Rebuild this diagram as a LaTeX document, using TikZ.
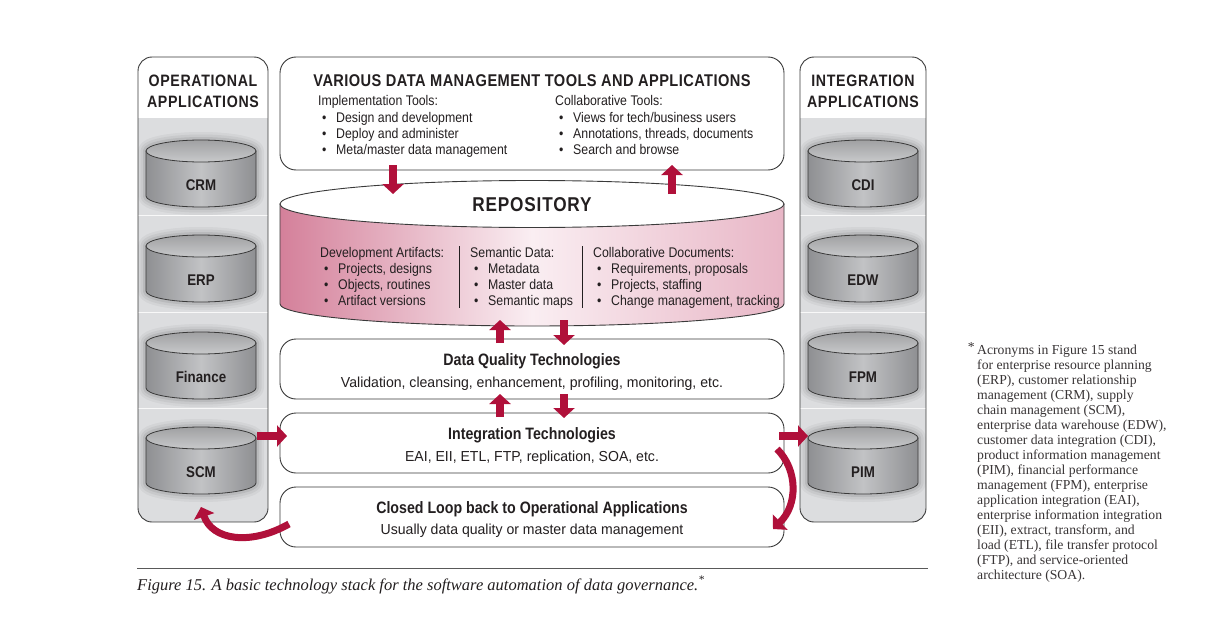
\documentclass[tikz,border=0pt]{standalone}
\usepackage{fontspec}
\setmainfont{Liberation Sans}[FakeStretch=0.86]
\newfontfamily\listfont{Liberation Sans}[FakeStretch=0.88]
\newfontfamily\subfont{Liberation Sans}[FakeStretch=0.97]
\newfontfamily\capfont{Liberation Serif}
\usetikzlibrary{arrows.meta}
\definecolor{crim}{HTML}{B0103A}
\definecolor{txt}{HTML}{231F20}
\definecolor{frame}{HTML}{3A3A3A}
\definecolor{panelgray}{HTML}{DCDDDF}
\definecolor{cylL}{HTML}{8E8F92}
\definecolor{cylM}{HTML}{C2C3C5}
\definecolor{cylT}{HTML}{C8C9CB}
\definecolor{repL}{HTML}{D4809A}
\definecolor{repM}{HTML}{FAEEF2}
\definecolor{repR}{HTML}{E8B6C6}
\newcommand\bl[1]{\hspace*{4pt}\makebox[14pt][l]{•}#1}
\tikzset{
  panelframe/.style={draw=frame, line width=0.9pt, rounded corners=14pt, fill=none, inner sep=0pt},
  boxframe/.style={draw=frame, line width=0.9pt, rounded corners=16pt, fill=white, inner sep=0pt},
  listtxt/.style={anchor=base west, inner sep=0pt, text=txt, font=\listfont\fontsize{14}{16}\selectfont},
  headtxt/.style={anchor=base, inner sep=0pt, text=txt, font=\bfseries\fontsize{16.5}{18}\selectfont\addfontfeature{LetterSpace=4}},
  titletxt/.style={anchor=base, inner sep=0pt, text=txt, font=\bfseries\fontsize{16.5}{19}\selectfont},
  subtxt/.style={anchor=base, inner sep=0pt, text=txt, font=\subfont\fontsize{14.5}{17}\selectfont},
  cyllabel/.style={anchor=base, inner sep=0pt, text=txt, font=\bfseries\fontsize{15.5}{18}\selectfont},
  fatarrow/.style={draw=crim, line width=8pt, -{Triangle[width=21pt,length=10pt]}},
  fnote/.style={anchor=base west, inner sep=0pt, text=txt!90, font=\capfont\fontsize{13.7}{15}\selectfont},
}
\newcommand\dbcyl[4]{%
  \foreach \w/\o in {16/0.04,11/0.05,6/0.07}{%
    \draw[black, opacity=\o, line width=\w pt, line join=round]
      (#2-55,#3+11) -- (#2-55,#3+56) arc[start angle=180,end angle=0,x radius=55,y radius=11]
      -- (#2+55,#3+11) arc[start angle=0,end angle=-180,x radius=55,y radius=11] -- cycle;}
  \path[draw=frame, line width=0.8pt, left color=cylL, right color=cylL, middle color=cylM]
    (#2-55,#3+11) -- (#2-55,#3+56) arc[start angle=180,end angle=0,x radius=55,y radius=11]
    -- (#2+55,#3+11) -- cycle;
  \path[draw=frame, line width=0.8pt, top color=cylT!80!black, bottom color=cylT]
    (#2,#3+11) ellipse[x radius=55,y radius=11];
  \node[cyllabel] (#1) at (#2,#3+50) {#4};
}
\begin{document}
\begin{tikzpicture}[x=1pt,y=-1pt]
\useasboundingbox (0,0) rectangle (1221,642);
\fill[white] (0,0) rectangle (1221,642);

% ---------- side panels ----------
\begin{scope}
  \clip[rounded corners=14pt] (138,57) rectangle (268,522);
  \fill[white] (138,57) rectangle (268,118);
  \fill[panelgray] (138,118) rectangle (268,522);
  \foreach \yy in {215,312,408} \draw[white, line width=1pt, opacity=0.8] (138,\yy) -- (268,\yy);
\end{scope}
\node[panelframe, minimum width=130pt, minimum height=465pt] (opapps) at (203,289.5) {};
\node[headtxt] (ophead1) at (203,87) {OPERATIONAL};
\node[headtxt] (ophead2) at (203,107) {APPLICATIONS};

\begin{scope}
  \clip[rounded corners=14pt] (800,57) rectangle (926,522);
  \fill[white] (800,57) rectangle (926,118);
  \fill[panelgray] (800,118) rectangle (926,522);
  \foreach \yy in {215,312,408} \draw[white, line width=1pt, opacity=0.8] (800,\yy) -- (926,\yy);
\end{scope}
\node[panelframe, minimum width=126pt, minimum height=465pt] (intapps) at (863,289.5) {};
\node[headtxt] (inthead1) at (863,87) {INTEGRATION};
\node[headtxt] (inthead2) at (863,107) {APPLICATIONS};

\dbcyl{crm}{201}{140}{CRM}
\dbcyl{erp}{201}{235}{ERP}
\dbcyl{fin}{201}{332}{Finance}
\dbcyl{scm}{201}{427}{SCM}
\dbcyl{cdi}{863}{140}{CDI}
\dbcyl{edw}{863}{235}{EDW}
\dbcyl{fpm}{863}{332}{FPM}
\dbcyl{pim}{863}{427}{PIM}

% ---------- tools box ----------
\node[boxframe, minimum width=504pt, minimum height=113pt] (tools) at (532,113.5) {};
\node[anchor=base, inner sep=0pt, text=txt, font=\bfseries\fontsize{17}{20}\selectfont\addfontfeature{LetterSpace=2.5}] (toolstitle) at (532,86) {VARIOUS DATA MANAGEMENT TOOLS AND APPLICATIONS};
\node[listtxt] (impl0) at (318,106) {Implementation Tools:};
\node[listtxt] (impl1) at (318,122) {\bl{Design and development}};
\node[listtxt] (impl2) at (318,138) {\bl{Deploy and administer}};
\node[listtxt] (impl3) at (318,154) {\bl{Meta/master data management}};
\node[listtxt] (coll0) at (555,106) {Collaborative Tools:};
\node[listtxt] (coll1) at (555,122) {\bl{Views for tech/business users}};
\node[listtxt] (coll2) at (555,138) {\bl{Annotations, threads, documents}};
\node[listtxt] (coll3) at (555,154) {\bl{Search and browse}};

% ---------- repository ----------
\path[draw=frame, line width=0.9pt, left color=repL, right color=repR, middle color=repM]
  (280,204) -- (280,304) arc[start angle=180,end angle=0,x radius=252,y radius=22] -- (784,204) -- cycle;
\draw[frame, line width=0.9pt, fill=white] (532,204) ellipse[x radius=252,y radius=23.5];
\node[anchor=base, inner sep=0pt, text=txt, font=\bfseries\fontsize{20}{24}\selectfont\addfontfeature{LetterSpace=4}] (repo) at (532,211) {REPOSITORY};
\draw[txt, line width=0.8pt] (459,246) -- (459,308);
\draw[txt, line width=0.8pt] (582,246) -- (582,308);
\node[listtxt] (dev0) at (320,257) {Development Artifacts:};
\node[listtxt] (dev1) at (320,273) {\bl{Projects, designs}};
\node[listtxt] (dev2) at (320,289) {\bl{Objects, routines}};
\node[listtxt] (dev3) at (320,305) {\bl{Artifact versions}};
\node[listtxt] (sem0) at (470,257) {Semantic Data:};
\node[listtxt] (sem1) at (470,273) {\bl{Metadata}};
\node[listtxt] (sem2) at (470,289) {\bl{Master data}};
\node[listtxt] (sem3) at (470,305) {\bl{Semantic maps}};
\node[listtxt] (doc0) at (593,257) {Collaborative Documents:};
\node[listtxt] (doc1) at (593,273) {\bl{Requirements, proposals}};
\node[listtxt] (doc2) at (593,289) {\bl{Projects, staffing}};
\node[listtxt] (doc3) at (593,305) {\bl{Change management, tracking}};

% ---------- technology boxes ----------
\node[boxframe, minimum width=504pt, minimum height=60pt] (dq) at (532,369) {};
\node[titletxt] (dqt) at (532,365) {Data Quality Technologies};
\node[subtxt] (dqs) at (532,387) {Validation, cleansing, enhancement, profiling, monitoring, etc.};

\node[boxframe, minimum width=504pt, minimum height=60pt] (integ) at (532,443) {};
\node[titletxt] (integt) at (532,439) {Integration Technologies};
\node[subtxt] (integs) at (532,461) {EAI, EII, ETL, FTP, replication, SOA, etc.};

\node[boxframe, minimum width=504pt, minimum height=60pt] (loop) at (532,517) {};
\node[titletxt] (loopt) at (532,513) {Closed Loop back to Operational Applications};
\node[subtxt] (loops) at (532,534) {Usually data quality or master data management};

% ---------- arrows ----------
\coordinate (a1s) at (393,165); \coordinate (a1e) at (393,194);
\coordinate (a2s) at (672,194); \coordinate (a2e) at (672,165);
\coordinate (a3s) at (500,343); \coordinate (a3e) at (500,320);
\coordinate (a4s) at (564,320); \coordinate (a4e) at (564,345);
\coordinate (a5s) at (500,417); \coordinate (a5e) at (500,394);
\coordinate (a6s) at (564,394); \coordinate (a6e) at (564,418);
\coordinate (a7s) at (257,436); \coordinate (a7e) at (287,436);
\coordinate (a8s) at (779,436); \coordinate (a8e) at (808,436);
\coordinate (c1s) at (777,449); \coordinate (c1e) at (773,529);
\coordinate (c2s) at (289,524); \coordinate (c2e) at (201,507);
\draw[fatarrow] (a1s) -- (a1e);
\draw[fatarrow] (a2s) -- (a2e);
\draw[fatarrow] (a3s) -- (a3e);
\draw[fatarrow] (a4s) -- (a4e);
\draw[fatarrow] (a5s) -- (a5e);
\draw[fatarrow] (a6s) -- (a6e);
\draw[fatarrow] (a7s) -- (a7e);
\draw[fatarrow] (a8s) -- (a8e);
\draw[fatarrow, line width=7pt] (c1s) .. controls (798,470) and (798,505) .. (c1e);
\draw[fatarrow, line width=7pt] (c2s) .. controls (250,546) and (212,540) .. (c2e);

% ---------- caption ----------
\draw[gray!70!black, line width=1pt] (137,568) -- (928,568);
\node[anchor=base west, inner sep=0pt, text=txt, font=\capfont\itshape\fontsize{16.5}{19}\selectfont] (cap) at (137,590) {Figure 15. A basic technology stack for the software automation of data governance.\textsuperscript{*}};

% ---------- footnote ----------
\node[anchor=base east, inner sep=0pt, text=txt!90, font=\capfont\fontsize{13.7}{15}\selectfont] (ast) at (975,351) {*};
\node[fnote] (f1) at (977,354) {Acronyms in Figure 15 stand};
\node[fnote] (f2) at (977,369) {for enterprise resource planning};
\node[fnote] (f3) at (977,384) {(ERP), customer relationship};
\node[fnote] (f4) at (977,399) {management (CRM), supply};
\node[fnote] (f5) at (977,414) {chain management (SCM),};
\node[fnote] (f6) at (977,429) {enterprise data warehouse (EDW),};
\node[fnote] (f7) at (977,444) {customer data integration (CDI),};
\node[fnote] (f8) at (977,459) {product information management};
\node[fnote] (f9) at (977,474) {(PIM), financial performance};
\node[fnote] (f10) at (977,489) {management (FPM), enterprise};
\node[fnote] (f11) at (977,504) {application integration (EAI),};
\node[fnote] (f12) at (977,519) {enterprise information integration};
\node[fnote] (f13) at (977,534) {(EII), extract, transform, and};
\node[fnote] (f14) at (977,549) {load (ETL), file transfer protocol};
\node[fnote] (f15) at (977,564) {(FTP), and service-oriented};
\node[fnote] (f16) at (977,579) {architecture (SOA).};
\end{tikzpicture}
\end{document}
